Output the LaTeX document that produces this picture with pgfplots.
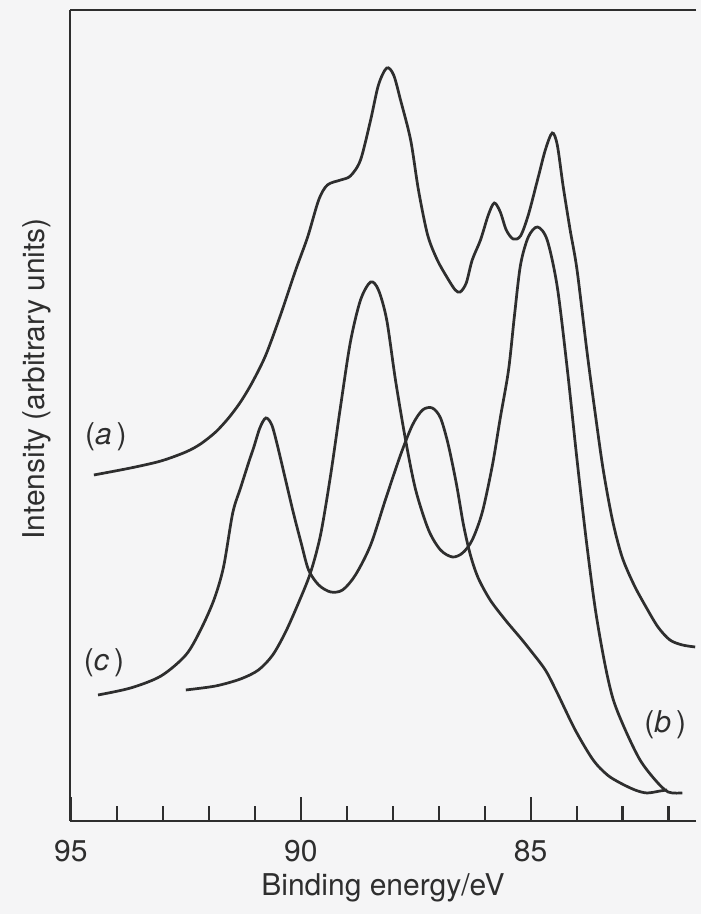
\documentclass[border=0pt]{standalone}
\usepackage{fontspec}
\setmainfont{TeX Gyre Heros}
\usepackage{pgfplots}
\pgfplotsset{compat=1.18}
\definecolor{ink}{HTML}{2E2E2E}
\definecolor{paper}{HTML}{F5F5F6}
\begin{document}
\begin{tikzpicture}[font=\fontsize{9.9}{12}\selectfont]
\fill[paper] (-23.1pt,-30.7pt) rectangle (208.25pt,270.9pt);
\begin{axis}[
  name=ax, at={(0,0)}, anchor=south west,
  scale only axis, width=206.6pt, height=267.6pt,
  x dir=reverse, xmin=81.4, xmax=95.02, ymin=0, ymax=811,
  axis x line=box, axis y line=left,
  axis line style={ink, line width=0.7pt},
  y axis line style={-},
  xtick={85,90,95}, minor xtick={82,83,84,86,87,88,89,91,92,93,94},
  xtick pos=bottom, ytick=\empty,
  tick align=inside, major tick length=8pt, minor tick length=5pt,
  tick style={ink, line width=0.7pt},
  xticklabel style={anchor=base, yshift=-13.5pt, text=ink},
  /pgf/number format/assume math mode=true,
  xlabel={Binding energy/eV},
  xlabel style={at={(axis description cs:0.5,0)}, anchor=base, yshift=-24.75pt, text=ink},
  ylabel={Intensity (arbitrary units)},
  ylabel style={at={([xshift=-8.25pt]axis description cs:0,0.545)}, anchor=base, text=ink},
  clip=false,
]
% curve (a)
\addplot[ink, line width=0.9pt, smooth, tension=0.5] coordinates {
(94.50,346) (93.70,353) (93.04,360) (92.50,369) (92.18,377) (91.85,389) (91.57,403)
(91.31,419) (91.05,439) (90.76,466) (90.44,506) (90.11,551) (89.85,584) (89.61,621)
(89.42,636) (89.13,641) (88.92,645) (88.70,661) (88.48,701) (88.31,736) (88.13,753)
(87.98,746) (87.83,721) (87.61,681) (87.44,631) (87.24,586) (87.03,561) (86.81,543)
(86.64,531) (86.53,529) (86.40,538) (86.27,561) (86.09,581) (85.92,606) (85.79,618)
(85.66,609) (85.53,591) (85.38,582) (85.22,585) (85.05,606) (84.85,641) (84.68,671)
(84.53,688) (84.42,676) (84.29,634) (84.14,591) (83.99,551) (83.77,468) (83.59,406)
(83.42,351) (83.22,301) (83.01,264) (82.75,236) (82.49,214) (82.23,194) (81.97,181)
(81.70,176) (81.42,174)
};
% curve (b)
\addplot[ink, line width=0.9pt, smooth, tension=0.5] coordinates {
(92.50,131) (91.85,135) (91.31,142) (90.92,151) (90.61,166) (90.33,189) (90.05,218)
(89.79,248) (89.57,286) (89.35,346) (89.13,416) (88.92,479) (88.70,521) (88.48,539)
(88.31,531) (88.13,501) (87.94,441) (87.72,381) (87.50,331) (87.22,291) (86.96,271)
(86.70,264) (86.48,268) (86.27,281) (86.05,309) (85.83,356) (85.66,403) (85.48,451)
(85.35,506) (85.22,556) (85.05,584) (84.85,594) (84.64,581) (84.42,534) (84.20,451)
(83.99,361) (83.79,281) (83.59,211) (83.38,156) (83.20,121) (82.94,91) (82.62,61)
(82.29,41) (82.01,29) (81.70,28)
};
% curve (c)
\addplot[ink, line width=0.9pt, smooth, tension=0.5] coordinates {
(94.41,126) (93.70,133) (93.04,145) (92.50,166) (92.18,191) (91.89,221) (91.68,254)
(91.48,308) (91.31,333) (91.13,359) (91.02,374) (90.89,393) (90.76,403) (90.63,396)
(90.50,374) (90.33,341) (90.16,308) (89.98,276) (89.83,251) (89.61,236) (89.35,229)
(89.09,231) (88.81,246) (88.48,276) (88.16,321) (87.83,366) (87.57,396) (87.35,411)
(87.14,413) (86.96,403) (86.79,376) (86.61,336) (86.46,296) (86.31,266) (86.14,243)
(85.88,221) (85.55,201) (85.22,183) (85.01,171) (84.68,151) (84.42,128) (84.03,91)
(83.64,61) (83.33,46) (83.05,38) (82.73,31) (82.47,28) (82.18,30) (82.03,31)
};
\node[text=ink] at (axis cs:94.24,384) {(\textit{a}\,)};
\node[text=ink] at (axis cs:94.28,158) {(\textit{c}\,)};
\node[text=ink] at (axis cs:82.07,96) {(\textit{b}\,)};
\end{axis}
\pgfresetboundingbox
\path (-23.1pt,-30.7pt) rectangle (208.25pt,270.9pt);
\end{tikzpicture}
\end{document}
